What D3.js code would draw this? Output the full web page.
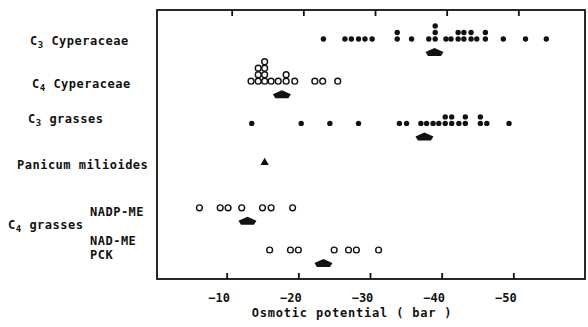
<!DOCTYPE html>
<html>
<head>
<meta charset="utf-8">
<script src="https://cdn.jsdelivr.net/npm/d3@7"></script>
<style>
  body { margin: 0; background: #fff; }
  text { font-family: "DejaVu Sans Mono", "Liberation Mono", monospace; font-weight: bold; fill: #111; }
</style>
</head>
<body>
<div id="chart"></div>
<script>
// osmotic potential (bar) of each species, repeated values are stacked
const c3Cyperaceae = [-23.5, -26.5, -27.4, -28.4, -29.3, -30.3, -33.8, -33.8, -35.8, -38.2,
    -39.1, -39.1, -39.1, -40.6, -41.3, -42.3, -42.3, -43.1, -43.1, -44.1, -44.1, -44.9,
    -46.1, -46.1, -48.6, -51.7, -54.6];
const c4Cyperaceae = [-13.4, -14.4, -14.4, -14.4, -15.3, -15.3, -15.3, -15.3, -16.2, -17.2,
    -18.3, -18.3, -19.5, -22.3, -23.4, -25.5];
const c3Grasses = [-13.5, -20.4, -24.4, -28.4, -34.1, -35.1, -37.1, -37.9, -38.8, -39.6,
    -40.5, -40.5, -41.4, -41.4, -42.4, -43.3, -43.3, -45.4, -45.4, -46.3, -49.4];
const panicum = [-15.3];
const nadpME = [-6.2, -9.1, -10.2, -12.1, -15.0, -16.2, -19.2];
const nadME = [-16.0, -18.9, -20.0, -25.0, -27.0, -28.1, -31.2];

const rowKeys = ["c3cyp", "c4cyp", "c3gr", "pan", "nadp", "nad"];
const rowData = [c3Cyperaceae, c4Cyperaceae, c3Grasses, panicum, nadpME, nadME];
const rowSymbol = ["dot", "ring", "dot", "tri", "ring", "ring"];
const rowMeans = [-39.0, -17.7, -37.6, null, -12.9, -23.5];
const xTicks = [-10, -20, -30, -40, -50];

const width = 588, height = 327;
const svg = d3.select("#chart").append("svg")
    .attr("width", width)
    .attr("height", height);

const x = d3.scaleLinear().domain([0, -60]).range([155, 585]);
const y = d3.scalePoint().domain(rowKeys).range([39, 250]);

const frameTop = 10, frameBottom = 279, frameLeft = 157, frameRight = 585;

// frame
svg.append("rect")
    .attr("x", frameLeft).attr("y", frameTop)
    .attr("width", frameRight - frameLeft).attr("height", frameBottom - frameTop)
    .attr("fill", "none").attr("stroke", "#111").attr("stroke-width", 1.8);

// bottom axis (ticks point inward)
const xAxis = svg.append("g")
    .attr("transform", `translate(0,${frameBottom})`)
    .call(d3.axisBottom(x).tickValues(xTicks).tickSizeInner(-6).tickSizeOuter(0).tickPadding(14));
xAxis.select(".domain").remove();
xAxis.selectAll("line").attr("stroke", "#111").attr("stroke-width", 1.8);
xAxis.selectAll("text")
    .attr("dx", -8)
    .style("font-size", "12px")
    .style("font-family", "DejaVu Sans Mono")
    .style("font-weight", "bold");

// top ticks
const topAxis = svg.append("g")
    .attr("transform", `translate(5,${frameTop})`)
    .call(d3.axisTop(x).tickValues(xTicks).tickSizeInner(-6).tickSizeOuter(0).tickFormat(""));
topAxis.select(".domain").remove();
topAxis.selectAll("line").attr("stroke", "#111").attr("stroke-width", 1.8);

svg.append("text")
    .attr("x", 352).attr("y", 317)
    .attr("text-anchor", "middle")
    .style("font-size", "12px")
    .style("letter-spacing", "0.8px")
    .text("Osmotic potential  ( bar )");

// points, equal values stacked upward
const stack = 6.5;
rowKeys.forEach((key, i) => {
    const counts = new Map();
    const pts = rowData[i].map(v => {
        const n = counts.get(v) || 0;
        counts.set(v, n + 1);
        return { v, cy: y(key) - n * stack };
    });
    const g = svg.append("g");
    if (rowSymbol[i] === "dot") {
        g.selectAll("circle").data(pts).join("circle")
            .attr("cx", d => x(d.v)).attr("cy", d => d.cy)
            .attr("r", 2.7).attr("fill", "#111");
    } else if (rowSymbol[i] === "ring") {
        g.selectAll("circle").data(pts).join("circle")
            .attr("cx", d => x(d.v)).attr("cy", d => d.cy)
            .attr("r", 2.9).attr("fill", "#fff")
            .attr("stroke", "#111").attr("stroke-width", 1.4);
    } else {
        g.selectAll("path").data(pts).join("path")
            .attr("d", d3.symbol(d3.symbolTriangle, 30))
            .attr("transform", d => `translate(${x(d.v)},${y(key) - 3})`)
            .attr("fill", "#111");
    }
    // mean marker
    if (rowMeans[i] !== null) {
        svg.append("path")
            .attr("d", "M0,-4.5 L9,-0.5 L6.5,3.5 L-6.5,3.5 L-9,-0.5 Z")
            .attr("transform", `translate(${x(rowMeans[i])},${y(key) + 13.5})`)
            .attr("fill", "#111");
    }
});

// row labels
const lab = svg.append("g").style("font-size", "12px").style("letter-spacing", "0.5px");
function label(tx, ty, main, sub, rest) {
    const t = lab.append("text").attr("x", tx).attr("y", ty);
    t.append("tspan").text(main);
    if (sub) t.append("tspan").attr("dy", 3).style("font-size", "9px").text(sub);
    t.append("tspan").attr("dy", sub ? -3 : 0).text(rest);
}
label(30, y("c3cyp") + 6, "C", "3", " Cyperaceae");
label(32, y("c4cyp") + 7, "C", "4", " Cyperaceae");
label(28, y("c3gr") + 0, "C", "3", " grasses");
label(17, y("pan") + 3, "Panicum milioides", null, "");
label(90, y("nadp") + 8, "NADP-ME", null, "");
label(8, 229, "C", "4", " grasses");
label(90, y("nad") - 5, "NAD-ME", null, "");
label(90, y("nad") + 9, "PCK", null, "");
</script>
</body>
</html>
